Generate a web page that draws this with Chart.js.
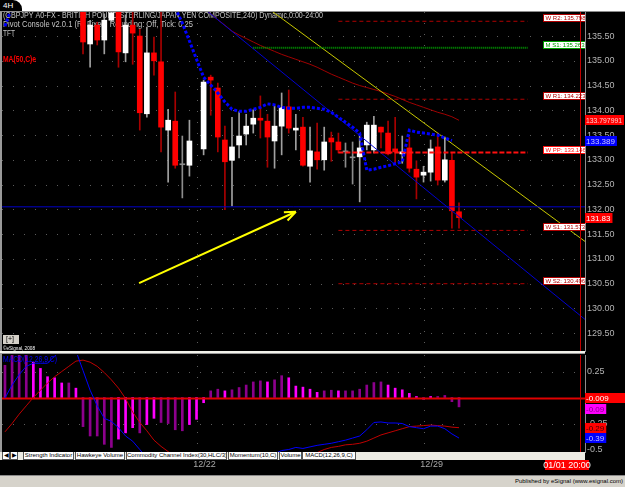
<!DOCTYPE html>
<html>
<head>
<meta charset="utf-8">
<title>GBPJPY 240</title>
<script src="https://cdn.jsdelivr.net/npm/chart.js@4.4.1/dist/chart.umd.min.js"></script>
<style>
  body { margin:0; width:625px; height:487px; background:#000; position:relative; overflow:hidden; font-family:"Liberation Sans", Arial, sans-serif; }
  .abs { position:absolute; }
  #topband { left:0; top:0; width:625px; height:11px; background:#fff; border-bottom:1px solid #8c8c8c; }
  #tab4h { left:0; top:0; width:19px; height:11px; background:#000; color:#fff; font-size:8px; line-height:11px; padding-left:3px; border-top-right-radius:9px; }
  #leftline { left:0; top:12px; width:2px; height:440px; background:#9a9a9a; }
  #sep { left:0; top:351px; width:585px; height:3px; background:#f2f2ea; border-bottom:1px solid #9a9a9a; box-sizing:border-box; }
  #tabs { left:0; top:452px; width:585px; height:8px; background:#ecebe3; font-size:6px; line-height:7px; color:#000; }
  #tabs span { position:absolute; top:0; height:7px; background:#fff; border:1px solid #555; border-top:none; text-align:center; white-space:nowrap; overflow:hidden; }
  #foot { left:0; top:475px; width:625px; height:12px; background:#d6d3cb; border-top:1px solid #8a8a8a; }
  #pub { right:2px; top:478px; font-size:6px; color:#000; }
</style>
</head>
<body>
<div id="topband" class="abs"></div>
<div id="tab4h" class="abs">4H</div>
<canvas id="price" class="abs" style="left:0;top:12px" width="625" height="340"></canvas>
<canvas id="macd" class="abs" style="left:0;top:352px" width="625" height="122"></canvas>
<div id="leftline" class="abs"></div>
<div id="sep" class="abs"></div>
<div id="tabs" class="abs">
  <span style="left:2px;width:6px">&#9664;</span><span style="left:10px;width:6px">&#9654;</span>
  <span style="left:23px;width:49px">Strength Indicator</span>
  <span style="left:75px;width:48px">Hawkeye Volume</span>
  <span style="left:126px;width:99px">Commodity Channel Index(30,HLC/3)</span>
  <span style="left:228px;width:48px">Momentum(10,C)</span>
  <span style="left:279px;width:21px">Volume</span>
  <span style="left:302px;width:52px">MACD(12,26,9,C)</span>
</div>
<div id="foot" class="abs"></div>
<div id="pub" class="abs">Published by eSignal (www.esignal.com)</div>

<script>
// ---- values (x = bar slot, 4h bars) ----
const firstCandleSlot = 0
const opens  = [136.05,135.34,135.72,135.42,135.82,136.05,135.16,135.72,135.50,133.93,135.16,134.98,133.60,133.78,132.90,132.89,null,
  133.22,134.67,134.45,133.40,132.99,133.30,133.52,133.72,133.84,133.78,133.38,133.68,134.07,133.60,133.66,132.87,133.16,133.00,
  133.44,133.36,133.16,133.04,133.06,133.30,133.20,133.66,133.54,133.22,133.12,133.24,132.81,132.69,132.75,133.26,132.59,132.99,131.95]
const highs  = [136.20,135.82,135.78,135.95,136.10,136.20,135.93,135.99,135.64,135.68,135.48,136.00,134.02,134.37,133.48,133.80,null,
  134.61,134.71,134.55,133.68,133.86,133.97,133.92,134.01,134.29,133.92,134.09,134.35,134.41,133.92,133.86,133.66,133.74,133.66,
  133.56,133.54,133.34,133.36,133.50,133.76,133.88,133.66,133.78,133.86,133.48,133.46,132.98,132.87,133.40,133.54,133.46,133.14,132.13]
const lows   = [135.14,134.87,135.32,135.14,135.78,134.87,134.98,134.93,133.60,133.86,134.71,133.16,132.55,132.83,132.23,132.67,null,
  133.10,133.90,133.16,131.99,132.07,133.04,133.30,133.54,133.44,132.85,132.83,133.10,133.54,133.20,132.87,132.55,132.81,132.79,
  132.97,133.14,132.85,132.51,132.15,133.20,133.14,133.24,133.10,132.93,132.93,132.75,132.21,132.55,132.57,132.49,132.55,131.62,131.62]
const closes = [135.38,135.72,135.42,135.82,135.97,135.18,135.72,135.56,133.95,135.16,135.00,133.66,133.80,132.89,132.90,133.38,null,
  134.57,134.61,133.46,132.96,133.26,133.48,133.68,133.84,133.80,133.46,133.68,134.05,133.64,133.64,132.89,133.18,133.00,133.36,
  133.36,133.20,133.16,133.04,133.24,133.70,133.70,133.56,133.12,133.16,133.16,132.83,132.65,132.75,133.22,132.59,133.00,131.97,131.83]

const ma50Start = 17
const ma50 = [136.08,135.95,135.83,135.72,135.60,135.52,135.45,135.38,135.31,135.25,135.19,135.13,135.08,135.03,134.98,134.93,
  134.87,134.80,134.73,134.67,134.61,134.55,134.50,134.46,134.42,134.38,134.33,134.28,134.22,134.16,134.11,134.06,134.01,133.96,
  133.92,133.87,133.797991]

const tftStart = -11
const tft = [135.70,136.10,null,null,null,null,null,null,null,null,null,null,null,null,null,null,null,null,null,null,null,null,null,null,
  136.07,135.76,135.40,135.03,134.67,134.51,134.35,134.17,134.02,133.98,133.98,134.02,134.06,134.13,134.11,134.06,134.04,134.04,
  134.06,134.06,134.04,134.02,133.96,133.86,133.76,133.66,133.54,132.79,132.81,132.85,132.88,132.92,132.96,133.60,133.56,133.54,
  133.52,133.50,133.44,133.389]

const trendBlue = [{x:16, y:136.18}, {x:72, y:129.63}]
const trendYellow = [{x:24, y:136.28}, {x:72, y:131.22}]
const supportLevel = 132.05
const arrowLine = [{x:7.9, y:130.51}, {x:30.0, y:131.95}]

const pivotNames = ['W R2', 'M S1', 'W R1', 'W PP', 'W S1', 'W S2']
const pivotLevels = [135.7986, 135.2633, 134.2233, 133.1466, 131.5733, 130.4966]

const priceTicks = [129.5,130,130.5,131,131.5,132,132.5,133,133.5,134,134.5,135,135.5]

const macdStart = -11
const macdHist = [0.31,0.41,0.41,0.41,0.34,0.28,0.20,0.19,0.14,0.14,0.09,
  -0.28,-0.37,-0.37,-0.45,-0.48,-0.40,-0.34,-0.29,-0.34,-0.26,-0.20,-0.24,-0.25,-0.31,-0.32,-0.26,-0.21,-0.05,
  0.064,0.08,0.064,0.074,0.096,0.12,0.15,0.16,0.15,0.17,0.21,0.19,0.11,0.10,0.08,0.05,0.064,0.07,0.064,0.064,
  0.064,0.08,0.12,0.144,0.15,0.12,0.09,0.074,0.04,0.01,-0.02,0.01,0.01,0.02,-0.04,-0.09]
const macdLine = [-0.005,0.12,0.22,0.30,0.33,0.33,0.33,0.40,0.45,0.46,0.45,
  0.26,0.07,-0.08,-0.20,-0.23,-0.29,-0.37,-0.42,-0.50,-0.58,-0.61,-0.71,-0.77,-0.88,-0.94,-0.92,-0.90,-0.76,
  -0.70,-0.69,-0.68,-0.66,-0.64,-0.62,-0.60,-0.58,-0.56,-0.54,-0.51,-0.50,-0.48,-0.49,-0.475,-0.46,-0.45,-0.44,
  -0.425,-0.41,-0.39,-0.37,-0.31,-0.24,-0.235,-0.245,-0.245,-0.25,-0.28,-0.29,-0.30,-0.275,-0.275,-0.30,-0.35,-0.39]
const macdSignal = [-0.33,-0.25,-0.16,-0.08,0.0,0.07,0.14,0.20,0.25,0.30,0.35,
  0.36,0.34,0.30,0.24,0.17,0.09,-0.01,-0.14,-0.24,-0.32,-0.41,-0.47,-0.52,-0.57,-0.62,-0.66,-0.69,-0.71,
  -0.72,-0.72,-0.72,-0.71,-0.70,-0.69,-0.68,-0.66,-0.64,-0.62,-0.61,-0.60,-0.58,-0.57,-0.56,-0.53,-0.50,-0.48,
  -0.47,-0.455,-0.45,-0.44,-0.42,-0.39,-0.36,-0.34,-0.32,-0.30,-0.28,-0.275,-0.27,-0.265,-0.27,-0.275,-0.285,-0.29]
const macdZero = -0.009
const macdTicks = [0.25, -0.25, -0.5]

const dayTickSlots = [17, 49]
const dayTickLabels = ['12/22', '12/29']
const dayBreakSlots = [16, 48]
const nowSlot = 70
const nowLabel = '01/01 20:00'

const studyTitles = [
  '(GBPJPY A0-FX - BRITISH POUND STERLING/JAPAN YEN COMPOSITE,240) Dynamic,0:00-24:00',
  'Pivot Console v2.0.1 (R) Fixed, Rounding: Off, Tick: 0.25',
  'TFT'
]
const maTitle = 'MA(50,C)e'
const macdTitle = 'MACD(12,26,9,C)'

// ---- layout ----
const slotMin = -11.42, slotMax = 70.76
const priceMin = 129.117, priceMax = 135.986
const macdMin = -0.524, macdMax = 0.409
const FONT = '"Liberation Sans", Arial, sans-serif'
Chart.defaults.font.family = FONT

const series = (start, arr) => arr.map((v, i) => ({x: start + i, y: v}))

const candles = []
opens.forEach((o, i) => {
  if (o === null) return
  candles.push({x: firstCandleSlot + i, o: o, h: highs[i], l: lows[i], c: closes[i]})
})
const tone = k => k.c > k.o ? 'up' : (k.c < k.o ? 'down' : 'flat')
const bodyColor = {up: '#ffffff', down: '#ff0000', flat: '#8c8c8c'}
const wickColor = {up: '#a0a0a0', down: '#a80000', flat: '#8c8c8c'}

const pivotStyle = {
  'W R2': {color: '#b00000', dash: [4, 3], width: 1, from: 36},
  'M S1': {color: '#00a000', dash: [1, 1], width: 2, from: 24},
  'W R1': {color: '#b00000', dash: [4, 3], width: 1, from: 36},
  'W PP': {color: '#ff1010', dash: [5, 2], width: 2, from: 36},
  'W S1': {color: '#b00000', dash: [4, 3], width: 1, from: 36},
  'W S2': {color: '#b00000', dash: [4, 3], width: 1, from: 36}
}
const pivotTo = 62.7, pivotLabelSlot = 64.85

function lineSet(data, color, width, extra) {
  return Object.assign({type: 'line', data: data, borderColor: color, borderWidth: width,
    pointRadius: 0, fill: false, tension: 0, spanGaps: false, order: 0}, extra || {})
}

const priceSets = [
  {type: 'bar', data: candles.map(k => ({x: k.x, y: [k.l, k.h]})),
    backgroundColor: candles.map(k => wickColor[tone(k)]), barThickness: 1, grouped: false, order: 6},
  {type: 'bar', data: candles.map(k => ({x: k.x, y: [k.o, k.c]})),
    backgroundColor: candles.map(k => bodyColor[tone(k)]), barThickness: 5, minBarLength: 1, grouped: false, order: 5},
  lineSet(series(ma50Start, ma50), '#a00000', 1, {order: 4}),
  lineSet([{x: slotMin - 1, y: supportLevel}, {x: slotMax + 1, y: supportLevel}], '#0000c8', 1, {order: 3}),
  lineSet(trendBlue, '#0000d0', 1, {order: 3}),
  lineSet(trendYellow, '#c8c800', 1, {order: 3}),
  lineSet(arrowLine, '#ffff00', 2, {order: 1})
]
pivotNames.forEach((n, i) => {
  const st = pivotStyle[n]
  priceSets.push(lineSet([{x: st.from, y: pivotLevels[i]}, {x: pivotTo, y: pivotLevels[i]}], st.color, st.width,
    {borderDash: st.dash, order: 2}))
})
priceSets.push(lineSet(series(tftStart, tft), '#0000ff', 3, {borderDash: [3, 2], order: 0}))

function valueBox(ctx, x, y, text, bg, fg, w) {
  ctx.font = '8px ' + FONT
  const tw = Math.min(ctx.measureText(text).width, 36)
  ctx.fillStyle = bg
  ctx.fillRect(x, Math.round(y) - 5, w || tw + 3, 10)
  ctx.fillStyle = fg
  ctx.textAlign = 'left'
  ctx.textBaseline = 'middle'
  ctx.fillText(text, x + 1, Math.round(y) + 0.5, 36)
}

function dotRows(ctx, a, ys, values, xs, slots) {
  ctx.save()
  ctx.strokeStyle = '#5c5c5c'
  ctx.lineWidth = 1
  ctx.setLineDash([1, 10])
  values.forEach(v => {
    const py = Math.round(ys.getPixelForValue(v)) + 0.5
    ctx.beginPath(); ctx.moveTo(a.left, py); ctx.lineTo(a.right, py); ctx.stroke()
  })
  slots.forEach(s => {
    const px = Math.round(xs.getPixelForValue(s)) + 0.5
    ctx.beginPath(); ctx.moveTo(px, a.top); ctx.lineTo(px, a.bottom); ctx.stroke()
  })
  ctx.restore()
}

function nowLine(ctx, a, xs) {
  const px = Math.round(xs.getPixelForValue(nowSlot)) + 0.5
  ctx.save()
  ctx.strokeStyle = '#c00000'
  ctx.lineWidth = 1
  ctx.beginPath(); ctx.moveTo(px, a.top); ctx.lineTo(px, a.bottom); ctx.stroke()
  ctx.restore()
}

const pricePane = {
  id: 'pricePane',
  beforeDatasetsDraw(chart) {
    const {ctx, chartArea: a, scales: {x, y}} = chart
    dotRows(ctx, a, y, priceTicks, x, dayBreakSlots)
    ctx.save()
    ctx.textBaseline = 'middle'
    ctx.textAlign = 'left'
    ctx.font = '8.5px ' + FONT
    ctx.fillStyle = '#c4c4c4'
    ctx.fillText(studyTitles[0], 3, 4, 320)
    ctx.fillText(studyTitles[1], 3, 13, 190)
    ctx.fillText(studyTitles[2], 3, 21.5, 12)
    ctx.fillStyle = '#ff0000'
    ctx.font = 'bold 8.5px ' + FONT
    ctx.fillText(maTitle, 3, 48, 33)
    // chart button + copyright
    ctx.fillStyle = '#d4d0c8'
    ctx.fillRect(3, 323, 16, 9)
    ctx.fillStyle = '#000'
    ctx.font = '7px ' + FONT
    ctx.fillText('[+]', 6, 327.5)
    ctx.fillStyle = '#ffffff'
    ctx.font = '5.5px ' + FONT
    ctx.fillText('\u00a9eSignal, 2008', 3, 336, 32)
    ctx.restore()
  },
  afterDatasetsDraw(chart) {
    const {ctx, chartArea: a, scales: {x, y}} = chart
    ctx.save()
    // arrow head
    const p1 = {x: x.getPixelForValue(arrowLine[0].x), y: y.getPixelForValue(arrowLine[0].y)}
    const p2 = {x: x.getPixelForValue(arrowLine[1].x), y: y.getPixelForValue(arrowLine[1].y)}
    const ang = Math.atan2(p1.y - p2.y, p1.x - p2.x)
    ctx.strokeStyle = '#ffff00'
    ctx.lineWidth = 2
    ctx.beginPath()
    ;[-0.38, 0.38].forEach(d => {
      ctx.moveTo(p2.x, p2.y)
      ctx.lineTo(p2.x + 12 * Math.cos(ang + d), p2.y + 12 * Math.sin(ang + d))
    })
    ctx.stroke()
    // pivot labels
    ctx.beginPath(); ctx.rect(a.left, a.top, a.right - a.left, a.bottom - a.top); ctx.clip()
    ctx.font = '6px ' + FONT
    ctx.textBaseline = 'middle'
    pivotNames.forEach((n, i) => {
      const st = pivotStyle[n]
      const bx = Math.round(x.getPixelForValue(pivotLabelSlot)) + 0.5
      const by = Math.round(y.getPixelForValue(pivotLevels[i]))
      const txt = n + ': ' + pivotLevels[i].toFixed(4)
      const w = ctx.measureText(txt).width + 5
      ctx.fillStyle = '#ffffff'
      ctx.fillRect(bx, by - 7, w, 8)
      ctx.strokeStyle = st.color
      ctx.lineWidth = 1
      ctx.setLineDash([])
      ctx.strokeRect(bx, by - 6.5, w, 7)
      ctx.fillStyle = st.color
      ctx.fillText(txt, bx + 2, by - 2.5)
    })
    ctx.restore()
    nowLine(ctx, a, x)
    ctx.save()
    valueBox(ctx, a.right, y.getPixelForValue(ma50[ma50.length - 1]), ma50[ma50.length - 1].toFixed(6), '#ff0000', '#ffd0d0')
    valueBox(ctx, a.right, y.getPixelForValue(tft[tft.length - 1]), tft[tft.length - 1].toFixed(3), '#0000ff', '#c8c8ff')
    valueBox(ctx, a.right, y.getPixelForValue(closes[closes.length - 1]), closes[closes.length - 1].toFixed(2), '#ff0000', '#ffffff')
    ctx.restore()
  }
}

const fixedAxis = s => { s.width = 40; s.paddingTop = 0; s.paddingBottom = 0 }

new Chart(document.getElementById('price'), {
  type: 'line',
  data: {datasets: priceSets},
  options: {
    responsive: false, animation: false, devicePixelRatio: 1, events: [],
    layout: {padding: {left: 2, right: 0, top: 0, bottom: 0}},
    plugins: {legend: {display: false}, tooltip: {enabled: false}},
    scales: {
      x: {type: 'linear', min: slotMin, max: slotMax, display: false, offset: false},
      y: {type: 'linear', position: 'right', min: priceMin, max: priceMax,
        afterBuildTicks: s => { s.ticks = priceTicks.map(v => ({value: v})) },
        afterFit: fixedAxis,
        grid: {display: false, drawTicks: false},
        border: {display: true, color: '#8c8c8c', width: 1},
        ticks: {color: '#b4b4b4', padding: 2, autoSkip: false, font: {size: 9}, callback: v => v.toFixed(2)}}
    }
  },
  plugins: [pricePane]
})

// ---- MACD pane ----
const histColor = macdHist.map((v, i) => Math.abs(v) >= Math.abs(i > 0 ? macdHist[i - 1] : 0) ? '#8c008c' : '#ff00ff')

const macdPane = {
  id: 'macdPane',
  beforeDatasetsDraw(chart) {
    const {ctx, chartArea: a, scales: {x, y}} = chart
    dotRows(ctx, a, y, [0.25, -0.25], x, dayBreakSlots)
  },
  afterDatasetsDraw(chart) {
    const {ctx, chartArea: a, scales: {x, y}} = chart
    ctx.save()
    ctx.font = '8.5px ' + FONT
    ctx.fillStyle = '#0000ff'
    ctx.textBaseline = 'middle'
    ctx.fillText(macdTitle, 3, 8, 54)
    ctx.restore()
    nowLine(ctx, a, x)
    ctx.save()
    valueBox(ctx, a.right, y.getPixelForValue(macdZero), macdZero.toFixed(3), '#ff0000', '#ffffff', 40)
    valueBox(ctx, a.right, y.getPixelForValue(macdHist[macdHist.length - 1]) + 2, macdHist[macdHist.length - 1].toFixed(2), '#ff00ff', '#800080')
    valueBox(ctx, a.right, y.getPixelForValue(macdSignal[macdSignal.length - 1]), macdSignal[macdSignal.length - 1].toFixed(2), '#ff0000', '#400000')
    valueBox(ctx, a.right, y.getPixelForValue(macdLine[macdLine.length - 1]), macdLine[macdLine.length - 1].toFixed(2), '#0000ff', '#c0c0ff')
    // time axis
    ctx.font = '9px ' + FONT
    ctx.fillStyle = '#a8a8a8'
    ctx.textAlign = 'center'
    ctx.textBaseline = 'middle'
    dayTickSlots.forEach((s, i) => ctx.fillText(dayTickLabels[i], x.getPixelForValue(s) + 1, a.bottom + 13))
    const nx = Math.round(x.getPixelForValue(nowSlot))
    ctx.fillStyle = '#ff0000'
    ctx.fillRect(nx - 35, a.bottom + 8, 44, 10)
    ctx.fillStyle = '#ffffff'
    ctx.fillText(nowLabel, nx - 13, a.bottom + 13.5)
    ctx.restore()
  }
}

new Chart(document.getElementById('macd'), {
  type: 'line',
  data: {datasets: [
    {type: 'bar', data: series(macdStart, macdHist), backgroundColor: histColor, barThickness: 2, grouped: false, order: 3},
    lineSet([{x: slotMin - 1, y: macdZero}, {x: slotMax + 1, y: macdZero}], '#e00000', 2, {order: 2}),
    lineSet(series(macdStart, macdSignal), '#c00000', 1, {order: 1}),
    lineSet(series(macdStart, macdLine), '#0000ff', 1, {order: 0})
  ]},
  options: {
    responsive: false, animation: false, devicePixelRatio: 1, events: [],
    layout: {padding: {left: 2, right: 0, top: 3, bottom: 22}},
    plugins: {legend: {display: false}, tooltip: {enabled: false}},
    scales: {
      x: {type: 'linear', min: slotMin, max: slotMax, display: false, offset: false},
      y: {type: 'linear', position: 'right', min: macdMin, max: macdMax,
        afterBuildTicks: s => { s.ticks = macdTicks.map(v => ({value: v})) },
        afterFit: fixedAxis,
        grid: {display: false, drawTicks: false},
        border: {display: true, color: '#8c8c8c', width: 1},
        ticks: {color: '#b4b4b4', padding: 2, autoSkip: false, font: {size: 9}, callback: v => String(v)}}
    }
  },
  plugins: [macdPane]
})
</script>
</body>
</html>
